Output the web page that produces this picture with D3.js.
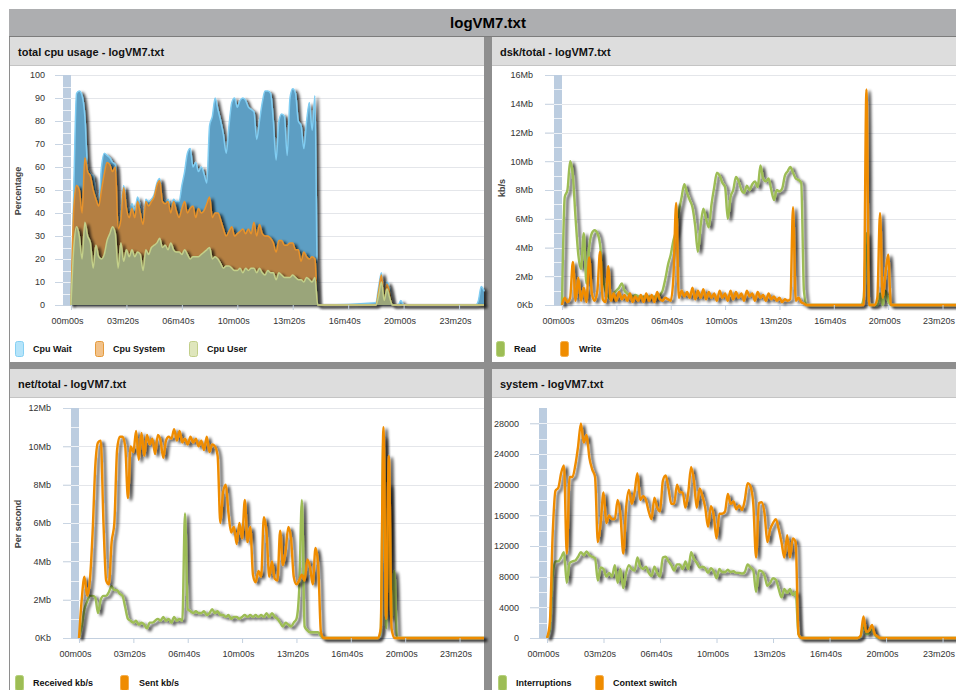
<!DOCTYPE html>
<html>
<head>
<meta charset="utf-8">
<script src="https://cdn.jsdelivr.net/npm/d3@7"></script>
<style>
  body { margin: 0; background: #fff; }
  svg text { font-family: "Liberation Sans", Arial, sans-serif; }
</style>
</head>
<body>
<svg id="dash" width="956" height="690"></svg>
<script>
// sample times (seconds from start of log)
const timeSec = [
    0, 10, 20, 30, 40, 50, 60, 70, 80, 90,
    100, 110, 120, 130, 140, 150, 160, 170, 180, 190,
    200, 210, 220, 230, 240, 250, 260, 270, 280, 290,
    300, 310, 320, 330, 340, 350, 360, 370, 380, 390,
    400, 410, 420, 430, 440, 450, 460, 470, 480, 490,
    500, 510, 520, 530, 540, 550, 560, 570, 580, 590,
    600, 610, 620, 630, 640, 650, 660, 670, 680, 690,
    700, 710, 720, 730, 740, 750, 760, 770, 780, 790,
    800, 810, 820, 830, 840, 850, 860, 870, 880, 890,
    900,
    1100, 1110, 1120, 1130, 1140, 1150, 1160, 1170, 1180, 1190, 1200, 1210,
    1460, 1470, 1480, 1490
];

// total cpu usage (%)
const cpuUser = [
    0, 25, 34, 30, 20, 36, 30, 27, 16, 26,
    21, 20, 22, 28, 31, 34, 31, 16, 27, 19,
    24, 21, 24, 21, 23, 22, 15, 24, 22, 25,
    26, 27, 29, 25, 26, 24, 27, 24, 23, 23,
    22, 24, 22, 20, 21, 21, 21, 22, 23, 24,
    25, 20, 21, 20, 18, 16, 17, 17, 16, 15,
    15, 16, 14, 16, 15, 16, 16, 14, 16, 14,
    13, 15, 14, 14, 11, 14, 13, 12, 12, 12,
    13, 12, 11, 11, 10, 12, 11, 10, 12, 0,
    0,
    0, 4, 10, 2, 7, 3, 0, 0, 0, 0, 0, 0,
    0, 0, 0, 0
];
const cpuSystem = [
    0, 17, 18, 20, 20, 28, 28, 29, 34, 20,
    22, 30, 35, 34, 30, 24, 29, 17, 10, 32,
    18, 17, 18, 17, 22, 18, 20, 21, 21, 20,
    21, 25, 25, 20, 18, 21, 13, 21, 18, 15,
    20, 21, 18, 22, 22, 17, 21, 18, 18, 20,
    22, 18, 19, 20, 19, 17, 13, 15, 18, 15,
    16, 16, 19, 15, 18, 15, 20, 16, 19, 17,
    17, 15, 15, 13, 12, 14, 15, 14, 14, 15,
    14, 12, 13, 8, 13, 9, 9, 11, 8, 0,
    0,
    0, 2, 3, 1, 2, 2, 0, 0, 0, 0, 0, 0,
    0, 0, 0, 0
];
const cpuWait = [
    0, 8, 40, 43, 51, 18, 2, 1, 6, 2,
    2, 10, 9, 3, 3, 4, 1, 3, 3, 1,
    2, 3, 2, 3, 2, 3, 2, 1, 2, 1,
    1, 1, 1, 2, 1, 1, 3, 1, 4, 7,
    10, 13, 26, 26, 17, 24, 16, 20, 16, 9,
    31, 44, 50, 45, 43, 41, 36, 46, 54, 60,
    55, 57, 57, 58, 53, 54, 48, 42, 45, 57,
    63, 63, 63, 53, 40, 52, 55, 56, 39, 63,
    67, 68, 56, 59, 45, 59, 68, 55, 71, 0,
    0,
    1, 2, 1, 1, 1, 2, 0, 0, 0, 2, 0, 0,
    0, 2, 8, 6
];

// dsk/total (Mb/s)
const dskRead = [
    0, 7.5, 8, 10, 9, 6, 3.5, 2.5, 5, 1.5,
    4, 5, 5.2, 5, 4.2, 2, 1, 0.6, 0.4, 0.8,
    1.0, 1.2, 1.5, 1.0, 0.8, 0.7, 0.6, 0.7, 0.6, 0.5,
    0.6, 0.5, 0.6, 0.5, 0.6, 0.5, 0.7, 1.0, 1.8, 2.8,
    3.5, 4.5, 5.2, 6.5, 7.5, 8.4, 7.8, 7.3, 6.8, 5.5,
    3.7, 5.5, 6.7, 6.0, 5.4, 7.0, 8.2, 9.2, 9.0, 8.5,
    8.2, 6.0, 7.5, 8.0, 8.9, 8.6, 8.0, 7.8, 8.3, 8.0,
    8.4, 8.6, 8.2, 9.7, 8.8, 8.6, 8.8, 8.0, 7.3, 8.0,
    7.9, 8.1, 9.0, 9.3, 9.6, 9.2, 8.8, 8.7, 8.5, 1.0,
    0,
    0, 0.5, 5, 0, 0, 0, 0, 0.8, 0, 1, 0.3, 0,
    0, 0, 0, 0
];
const dskWrite = [
    0, 0.5, 0.2, 0.5, 3.0, 0.3, 1.9, 0.3, 1.2, 0.2,
    3.3, 0.8, 0.3, 1.0, 3.7, 0.4, 0.2, 2.7, 0.3, 0.8,
    0.3, 0.9, 0.4, 0.7, 0.3, 0.8, 0.2, 0.6, 0.3, 0.7,
    0.2, 0.8, 0.3, 0.7, 0.2, 0.9, 0.4, 0.3, 0.5, 0.4,
    0.3, 2.0, 7.1, 0.5, 1.0, 0.6, 0.9, 0.5, 1.2, 0.4,
    1.0, 0.5, 1.1, 0.4, 0.9, 0.5, 0.8, 0.3, 1.0, 0.5,
    0.8, 0.3, 1.0, 0.4, 0.9, 0.5, 0.8, 0.3, 1.0, 0.6,
    0.8, 0.3, 0.9, 0.5, 0.7, 0.3, 0.8, 0.4, 0.6, 0.3,
    0.5, 0.2, 0.4, 0.3, 0.4, 6.8, 0.3, 0.5, 0.2, 0.1,
    0,
    0, 0, 15, 0, 0, 0, 0.5, 6.4, 0.5, 2.2, 3.5, 0,
    0, 0, 0, 0
];

// net/total (Mb/s)
const netReceived = [
    0, 0.6, 1.5, 1.9, 2.2, 2.2, 2.1, 1.3, 2.0, 2.2,
    2.2, 2.4, 2.7, 2.5, 2.5, 2.3, 2.2, 1.6, 1.0, 0.9,
    0.8, 0.9, 0.7, 0.8, 0.7, 0.5, 0.8, 0.8, 0.9, 1.0,
    0.9, 1.1, 0.9, 1.0, 0.8, 1.1, 0.9, 1.0, 0.9, 6.5,
    1.5, 1.4, 1.3, 1.4, 1.3, 1.3, 1.4, 1.2, 1.3, 1.5,
    1.3, 1.4, 1.2, 1.2, 1.1, 1.2, 1.0, 1.1, 1.1, 1.0,
    1.1, 1.2, 1.1, 1.2, 1.1, 1.2, 1.1, 1.2, 1.1, 1.3,
    1.1, 1.3, 1.1, 1.0, 0.8, 0.6, 0.8, 0.7, 0.6, 0.8,
    1.0, 2.5, 7.2, 0.6, 0.4, 0.3, 0.3, 0.3, 0.3, 0.1,
    0,
    0, 0.3, 10.5, 0.5, 8.0, 1.0, 3.5, 0, 0, 0, 0, 0,
    0, 0, 0, 0
];
const netSent = [
    0, 2.0, 3.2, 2.2, 3.0, 5.5, 9.0, 10.2, 10.3, 6.0,
    3.0, 2.8, 5.0, 6.0, 9.8, 10.5, 10.5, 10.0, 7.3, 10.0,
    9.7, 10.8, 9.3, 10.7, 9.5, 10.6, 10.1, 10.4, 9.6, 10.6,
    10.3, 9.4, 10.3, 10.5, 10.4, 10.9, 10.3, 10.8, 10.2, 10.4,
    10.1, 10.5, 10.2, 10.4, 10.0, 10.3, 9.8, 10.5, 9.7, 10.1,
    10.0, 9.5, 6.0, 7.6, 8.0, 6.5, 5.5, 5.8, 4.9, 6.0,
    5.2, 7.2, 5.0, 5.8, 3.3, 2.9, 3.5, 3.2, 6.3, 5.5,
    3.2, 4.0, 3.1, 3.0, 5.6, 3.8, 4.5, 5.8, 5.2, 3.2,
    2.8, 3.0, 3.3, 3.0, 4.1, 3.7, 2.8, 4.7, 3.8, 0.3,
    0,
    0, 0.5, 11, 1, 9.5, 0.5, 0, 0, 0, 0, 0, 0,
    0, 0, 0, 0
];

// system (per second)
const sysInterruptions = [
    0, 1000, 8000, 10000, 10000, 10500, 11200, 7200, 9800, 10000,
    10100, 10600, 11200, 10800, 11300, 10800, 10600, 10400, 7500, 9200,
    9000, 8000, 8500, 8000, 9500, 7200, 9000, 6500, 8500, 9500,
    9000, 8800, 10500, 9300, 9000, 9300, 8500, 8100, 9300, 8500,
    8000, 10500, 10600, 10000, 9500, 8800, 9600, 9600, 9000, 10000,
    9000, 11200, 10300, 9800, 9200, 9300, 9100, 8500, 9100, 8700,
    7800, 9000, 8600, 8600, 8900, 8600, 8700, 8500, 8500, 8400,
    8600, 9600, 9200, 8800, 6000, 8800, 8700, 8100, 6800, 7200,
    7800, 7600, 6400, 5300, 6400, 5900, 6400, 5600, 6000, 500,
    0,
    0, 200, 1800, 500, 600, 1200, 400, 100, 0, 0, 0, 0,
    0, 0, 0, 0
];
const sysContextSwitch = [
    0, 2000, 13500, 19200, 19600, 21500, 22500, 11000, 21000, 21000,
    22500, 25000, 28000, 25500, 26500, 23500, 22000, 21000, 12500, 15000,
    19000, 15000, 16000, 15500, 15500, 18000, 16000, 11000, 17000, 19300,
    17500, 19000, 21500, 18000, 18500, 18000, 16500, 15500, 18300, 17000,
    16500, 20500, 21200, 19500, 17500, 17500, 20000, 19000, 19000, 17000,
    19000, 22300, 20500, 17000, 19500, 18500, 17000, 14500, 17200, 16000,
    13000, 16200, 16200, 16500, 18800, 17500, 17800, 16800, 17300, 16700,
    18000, 20200, 19800, 17500, 10500, 17600, 17700, 16200, 12500, 14200,
    15000, 15500, 14200, 12500, 10500, 13400, 10500, 13000, 12500, 500,
    0,
    0, 300, 2800, 800, 1000, 1700, 500, 200, 0, 0, 0, 0,
    0, 0, 0, 0
];

// axes
const xTickSeconds = [0, 200, 400, 600, 800, 1000, 1200, 1400];
const xTickLabels = ['00m00s', '03m20s', '06m40s', '10m00s', '13m20s', '16m40s', '20m00s', '23m20s'];
const cpuTicks = [0, 10, 20, 30, 40, 50, 60, 70, 80, 90, 100];
const cpuTickLabels = ['0', '10', '20', '30', '40', '50', '60', '70', '80', '90', '100'];
const dskTicks = [0, 2, 4, 6, 8, 10, 12, 14, 16];
const dskTickLabels = ['0Kb', '2Mb', '4Mb', '6Mb', '8Mb', '10Mb', '12Mb', '14Mb', '16Mb'];
const netTicks = [0, 2, 4, 6, 8, 10, 12];
const netTickLabels = ['0Kb', '2Mb', '4Mb', '6Mb', '8Mb', '10Mb', '12Mb'];
const sysTicks = [0, 4000, 8000, 12000, 16000, 20000, 24000, 28000];
const sysTickLabels = ['0', '4000', '8000', '12000', '16000', '20000', '24000', '28000'];

const GREEN = '#9dbd55';
const ORANGE = '#ef8c00';
const timeMax = 1490;

const svg = d3.select('#dash');

// drop shadow used by all series
const filter = svg.append('defs').append('filter')
    .attr('id', 'shadow')
    .attr('filterUnits', 'userSpaceOnUse')
    .attr('x', 0).attr('y', 0).attr('width', 1000).attr('height', 720);
filter.append('feGaussianBlur').attr('in', 'SourceAlpha').attr('stdDeviation', 1.4);
filter.append('feOffset').attr('dx', 2.5).attr('dy', 2).attr('result', 'off');
filter.append('feComponentTransfer').append('feFuncA').attr('type', 'linear').attr('slope', 0.75);
const merge = filter.append('feMerge');
merge.append('feMergeNode');
merge.append('feMergeNode').attr('in', 'SourceGraphic');

// frame and main title
svg.append('rect').attr('x', 9).attr('y', 9).attr('width', 960).attr('height', 690).attr('fill', '#8e8e8e');
svg.append('rect').attr('x', 9).attr('y', 9).attr('width', 960).attr('height', 27).attr('fill', '#adaeb0');
svg.append('line').attr('x1', 9).attr('x2', 969).attr('y1', 36.5).attr('y2', 36.5).attr('stroke', '#7c7c7c');
svg.append('text')
    .attr('x', 488).attr('y', 28)
    .attr('text-anchor', 'middle')
    .style('font-size', '15px').style('font-weight', 'bold')
    .text('logVM7.txt');

const panels = [
    {
        title: 'total cpu usage - logVM7.txt', left: 10, top: 37, width: 474, height: 325,
        plotLeft: 71, plotRight: 484, plotTop: 75, plotBottom: 305, gridStart: 55, labelRight: 45,
        yMax: 100, ticks: cpuTicks, tickLabels: cpuTickLabels, halfStep: 5,
        yTitle: 'Percentage', yTitleX: 18, yTitleY: 191, legendY: 341,
        legend: [
            { label: 'Cpu Wait', x: 15, tx: 33, fill: '#b5e4fa', stroke: '#86d0f3' },
            { label: 'Cpu System', x: 95, tx: 113, fill: '#f2c28a', stroke: '#e49a3c' },
            { label: 'Cpu User', x: 189, tx: 207, fill: '#dfe6bc', stroke: '#c2cf8a' }
        ],
        kind: 'cpu'
    },
    {
        title: 'dsk/total - logVM7.txt', left: 492, top: 37, width: 476, height: 325,
        plotLeft: 562, plotRight: 967, plotTop: 75, plotBottom: 305, gridStart: 545, labelRight: 533,
        yMax: 16, ticks: dskTicks, tickLabels: dskTickLabels, halfStep: 1,
        yTitle: 'kb/s', yTitleX: 502, yTitleY: 188, legendY: 341,
        legend: [
            { label: 'Read', x: 496, tx: 514, fill: GREEN, stroke: '#b5d07a' },
            { label: 'Write', x: 560, tx: 579, fill: ORANGE, stroke: '#f5ad4a' }
        ],
        series: [dskRead, dskWrite]
    },
    {
        title: 'net/total - logVM7.txt', left: 10, top: 369, width: 474, height: 330,
        plotLeft: 79, plotRight: 484, plotTop: 408, plotBottom: 638, gridStart: 63, labelRight: 51,
        yMax: 12, ticks: netTicks, tickLabels: netTickLabels, halfStep: 1,
        yTitle: 'Per second', yTitleX: 18, yTitleY: 524, legendY: 675,
        legend: [
            { label: 'Received kb/s', x: 15, tx: 33, fill: GREEN, stroke: '#b5d07a' },
            { label: 'Sent kb/s', x: 120, tx: 139, fill: ORANGE, stroke: '#f5ad4a' }
        ],
        series: [netReceived, netSent]
    },
    {
        title: 'system - logVM7.txt', left: 492, top: 369, width: 476, height: 330,
        plotLeft: 547, plotRight: 968, plotTop: 408, plotBottom: 638, gridStart: 530, labelRight: 519,
        yMax: 30000, ticks: sysTicks, tickLabels: sysTickLabels, halfStep: 2000,
        yTitle: null, legendY: 675,
        legend: [
            { label: 'Interruptions', x: 498, tx: 516, fill: GREEN, stroke: '#b5d07a' },
            { label: 'Context switch', x: 595, tx: 613, fill: ORANGE, stroke: '#f5ad4a' }
        ],
        series: [sysInterruptions, sysContextSwitch]
    }
];

function drawPanel(p) {
    const g = svg.append('g');

    // panel body and header
    g.append('rect').attr('x', p.left).attr('y', p.top).attr('width', p.width).attr('height', p.height).attr('fill', '#fff');
    g.append('rect').attr('x', p.left).attr('y', p.top).attr('width', p.width).attr('height', 28).attr('fill', '#dddddd');
    g.append('line').attr('x1', p.left).attr('x2', p.left + p.width)
        .attr('y1', p.top + 28.5).attr('y2', p.top + 28.5).attr('stroke', '#c4c4c4');
    g.append('text').attr('x', p.left + 8).attr('y', p.top + 18.5)
        .style('font-size', '11px').style('font-weight', 'bold').attr('fill', '#111')
        .text(p.title);

    const x = d3.scaleLinear().domain([0, timeMax]).range([p.plotLeft, p.plotRight]);
    const y = d3.scaleLinear().domain([0, p.yMax]).range([p.plotBottom, p.plotTop]);
    const scrollLeft = p.plotLeft - 8;

    // horizontal gridlines
    g.selectAll('line.grid').data(p.ticks.slice(1)).join('line')
        .attr('class', 'grid')
        .attr('x1', p.gridStart).attr('x2', p.plotRight)
        .attr('y1', d => Math.round(y(d)) + 0.5).attr('y2', d => Math.round(y(d)) + 0.5)
        .attr('stroke', '#e4e6ea');

    // range bar on the left of the plot
    g.append('rect').attr('x', scrollLeft).attr('y', p.plotTop)
        .attr('width', 8).attr('height', p.plotBottom - p.plotTop).attr('fill', '#bccde0');
    const seps = d3.range(p.halfStep, p.yMax, p.halfStep);
    g.selectAll('line.sep').data(seps).join('line')
        .attr('class', 'sep')
        .attr('x1', scrollLeft).attr('x2', p.plotLeft)
        .attr('y1', d => Math.round(y(d)) + 0.5).attr('y2', d => Math.round(y(d)) + 0.5)
        .attr('stroke', '#eef2f7');

    // baseline
    g.append('line').attr('x1', p.gridStart).attr('x2', p.plotRight)
        .attr('y1', p.plotBottom + 0.5).attr('y2', p.plotBottom + 0.5).attr('stroke', '#c3d0df');

    const plot = g.append('g');
    if (p.kind === 'cpu') {
        const rows = timeSec.map((t, i) => ({ t, user: cpuUser[i], system: cpuSystem[i], wait: cpuWait[i] }));
        const layers = d3.stack().keys(['user', 'system', 'wait'])(rows);
        const fills = { user: '#9aa57a', system: '#b47f42', wait: '#5d9ec3' };
        const strokes = { user: '#c3d089', system: '#e8932c', wait: '#80cdf2' };
        const area = d3.area()
            .x(d => x(d.data.t)).y0(d => y(d[0])).y1(d => y(d[1]))
            .curve(d3.curveMonotoneX);
        const top = d3.line()
            .x(d => x(d.data.t)).y(d => y(d[1]))
            .curve(d3.curveMonotoneX);
        layers.slice().reverse().forEach(layer => {
            const lg = plot.append('g').attr('filter', 'url(#shadow)');
            lg.append('path').attr('d', area(layer)).attr('fill', fills[layer.key]);
            lg.append('path').attr('d', top(layer)).attr('fill', 'none')
                .attr('stroke', strokes[layer.key]).attr('stroke-width', 1.5);
        });
    } else {
        const line = d3.line()
            .x((d, i) => x(timeSec[i])).y(d => y(d))
            .curve(d3.curveMonotoneX);
        const colors = [GREEN, ORANGE];
        p.series.forEach((values, k) => {
            plot.append('path')
                .attr('d', line(values))
                .attr('fill', 'none')
                .attr('stroke', colors[k])
                .attr('stroke-width', 2.4)
                .attr('stroke-linejoin', 'round')
                .attr('filter', 'url(#shadow)');
        });
    }

    // x axis
    const xAxis = d3.axisBottom(x)
        .tickValues(xTickSeconds)
        .tickFormat((d, i) => xTickLabels[i])
        .tickSize(5).tickSizeOuter(0).tickPadding(8);
    const ax = g.append('g').attr('transform', `translate(0,${p.plotBottom})`).call(xAxis)
        .attr('font-family', null).attr('font-size', null);
    ax.select('.domain').remove();
    ax.selectAll('line').attr('stroke', '#c3d0df');
    ax.selectAll('text').attr('dx', -4).attr('fill', '#333').style('font-size', '9px');

    // y axis
    const yAxis = d3.axisLeft(y)
        .tickValues(p.ticks)
        .tickFormat((d, i) => p.tickLabels[i])
        .tickSize(scrollLeft - p.gridStart).tickSizeOuter(0)
        .tickPadding(p.gridStart - p.labelRight);
    const ay = g.append('g').attr('transform', `translate(${scrollLeft},0)`).call(yAxis)
        .attr('font-family', null).attr('font-size', null);
    ay.select('.domain').remove();
    ay.selectAll('line').attr('stroke', '#c9d5e3');
    ay.selectAll('text').attr('fill', '#333').style('font-size', '9px');

    if (p.yTitle) {
        g.append('text')
            .attr('transform', `translate(${p.yTitleX},${p.yTitleY}) rotate(-90)`)
            .attr('text-anchor', 'middle').attr('dy', '0.35em')
            .style('font-size', '9px').style('font-weight', 'bold').attr('fill', '#444')
            .text(p.yTitle);
    }

    // legend
    const lg = g.selectAll('g.legend').data(p.legend).join('g').attr('class', 'legend');
    lg.append('rect')
        .attr('x', d => d.x + 0.5).attr('y', p.legendY + 0.5)
        .attr('width', 8).attr('height', 15).attr('rx', 2)
        .attr('fill', d => d.fill).attr('stroke', d => d.stroke);
    lg.append('text')
        .attr('x', d => d.tx).attr('y', p.legendY + 11)
        .style('font-size', '9px').style('font-weight', 'bold').attr('fill', '#111')
        .text(d => d.label);
}

panels.forEach(drawPanel);
</script>
</body>
</html>
